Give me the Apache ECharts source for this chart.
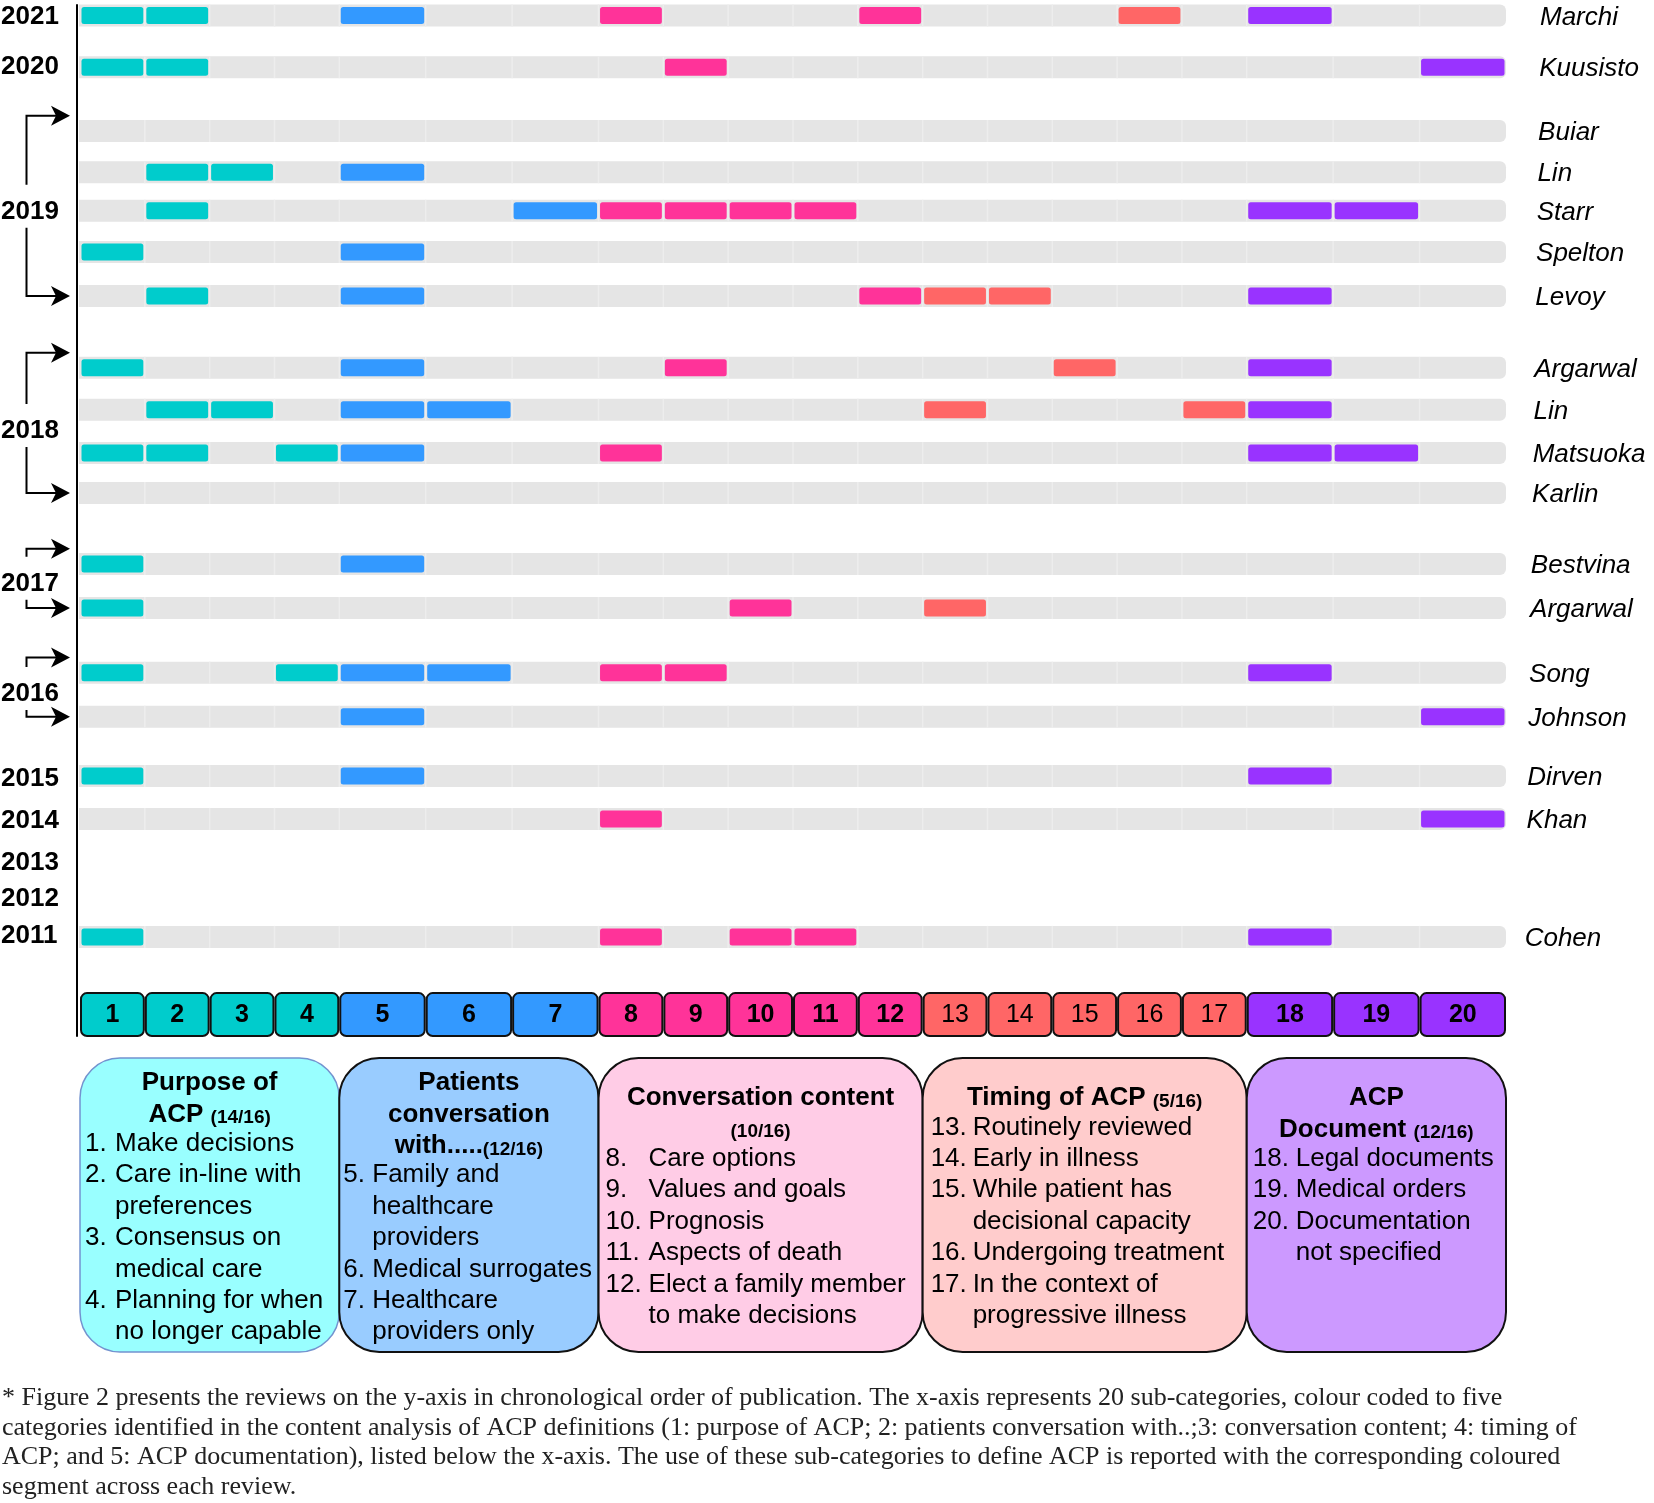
<!DOCTYPE html>
<html><head><meta charset="utf-8">
<script src="https://cdn.jsdelivr.net/npm/echarts@6/dist/echarts.min.js"></script>
<style>html,body{margin:0;padding:0;background:#fff}#c{width:1654px;height:1503px}</style>
</head><body><div id="c"></div>
<script>
// ---------------- DATA ----------------
const subcats = ['1','2','3','4','5','6','7','8','9','10','11','12','13','14','15','16','17','18','19','20'];
const groupOfSubcat = [0,0,0,0,1,1,1,2,2,2,2,2,3,3,3,3,3,4,4,4];
const reviews = ['Marchi','Kuusisto','Buiar','Lin','Starr','Spelton','Levoy','Argarwal','Lin','Matsuoka','Karlin','Bestvina','Argarwal','Song','Johnson','Dirven','Khan','Cohen'];
const reviewYears = [2021,2020,2019,2019,2019,2019,2019,2018,2018,2018,2018,2017,2017,2016,2016,2015,2014,2011];
// position of each review along the chronological (y) axis, in row units
const reviewPos = [0,1.23,2.75,3.73,4.65,5.63,6.68,8.39,9.39,10.42,11.37,13.06,14.11,15.65,16.70,18.11,19.13,21.94];
const reviewSubcats = [
  [1,2,5,8,12,16,18],
  [1,2,9,20],
  [],
  [2,3,5],
  [2,7,8,9,10,11,18,19],
  [1,5],
  [2,5,12,13,14,18],
  [1,5,9,15,18],
  [2,3,5,6,13,17,18],
  [1,2,4,5,8,18,19],
  [],
  [1,5],
  [1,10,13],
  [1,4,5,6,8,9,18],
  [5,20],
  [1,5,18],
  [8,20],
  [1,8,10,11,18]
];
const yearLabels = ['2021','2020','2019','2018','2017','2016','2015','2014','2013','2012','2011'];
const yearPos = [0,1.2,4.65,9.87,13.51,16.13,18.15,19.15,20.15,21.0,21.89];
const boxTitles = [
  [['Purpose of',''],['ACP ','(14/16)']],
  [['Patients',''],['conversation',''],['with.....','(12/16)']],
  [['Conversation content',''],['','(10/16)']],
  [['Timing of ACP ','(5/16)']],
  [['ACP',''],['Document ','(12/16)']]
];
const boxItems = [
  [['1.','Make decisions'],['2.','Care in-line with'],['','preferences'],['3.','Consensus on'],['','medical care'],['4.','Planning for when'],['','no longer capable']],
  [['5.','Family and'],['','healthcare'],['','providers'],['6.','Medical surrogates'],['7.','Healthcare'],['','providers only']],
  [['8.','Care options'],['9.','Values and goals'],['10.','Prognosis'],['11.','Aspects of death'],['12.','Elect a family member'],['','to make decisions']],
  [['13.','Routinely reviewed'],['14.','Early in illness'],['15.','While patient has'],['','decisional capacity'],['16.','Undergoing treatment'],['17.','In the context of'],['','progressive illness']],
  [['18.','Legal documents'],['19.','Medical orders'],['20.','Documentation'],['','not specified']]
];
const captionLines = [
  '* Figure 2 presents the reviews on the y-axis in chronological order of publication. The x-axis represents 20 sub-categories, colour coded to five',
  'categories identified in the content analysis of ACP definitions (1: purpose of ACP; 2: patients conversation with..;3: conversation content; 4: timing of',
  'ACP; and 5: ACP documentation), listed below the x-axis. The use of these sub-categories to define ACP is reported with the corresponding coloured',
  'segment across each review.'
];

// ---------------- LAYOUT / STYLE ----------------
const FONT = '"Liberation Sans", Arial, Helvetica, sans-serif';
const SERIF = '"Liberation Serif", "Times New Roman", serif';
const colors = ['#00CCCC','#3399FF','#FF3399','#FF6666','#9933FF'];
const lightColors = ['#99FFFF','#99CCFF','#FFCCE6','#FFCCCC','#CC99FF'];
const colUnits = groupOfSubcat.map(g => (g === 1 || g === 4) ? 4 : 3);
const colStart = []; let acc = 0;
colUnits.forEach(u => { colStart.push(acc); acc += u; });
const X_MAX = acc;
const NUM_ROW = 23.79;

const chart = echarts.init(document.getElementById('c'), null, {renderer: 'canvas'});

const cellData = [];
reviewSubcats.forEach((list, r) => list.forEach(s => {
  const c = s - 1;
  cellData.push([colStart[c], reviewPos[r], colStart[c] + colUnits[c], groupOfSubcat[c]]);
}));

const option = {
  animation: false,
  backgroundColor: '#fff',
  grid: {left: 80, right: 148, top: 5, height: 1031},
  xAxis: {type: 'value', min: 0, max: X_MAX, show: false},
  yAxis: {type: 'value', min: -0.25, max: 24.3, inverse: true, offset: 3,
    axisLine: {show: true, onZero: false, lineStyle: {color: '#000', width: 2}},
    axisTick: {show: false}, axisLabel: {show: false}, splitLine: {show: false}},
  series: [
    { // background tracks
      type: 'custom', clip: false, silent: true, z: 1,
      data: reviewPos.map((p, i) => [0, p, i]),
      renderItem: (params, api) => {
        const p0 = api.coord([0, api.value(1)]);
        const p1 = api.coord([X_MAX, api.value(1)]);
        const y = p0[1];
        const children = [{type: 'rect', shape: {x: p0[0] - 1, y: y - 11, width: p1[0] - p0[0] + 1, height: 22, r: [0, 6, 6, 0]}, style: {fill: '#e5e5e5'}}];
        for (let k = 1; k < colStart.length; k++) {
          const xx = api.coord([colStart[k], 0])[0];
          children.push({type: 'line', shape: {x1: xx, y1: y - 11, x2: xx, y2: y + 11}, style: {stroke: '#ededed', lineWidth: 1.5}});
        }
        return {type: 'group', children};
      }
    },
    { // coloured cells
      type: 'custom', clip: false, silent: true, z: 2,
      data: cellData,
      renderItem: (params, api) => {
        const p0 = api.coord([api.value(0), api.value(1)]);
        const p1 = api.coord([api.value(2), api.value(1)]);
        return {type: 'rect', shape: {x: p0[0] + 1.5, y: p0[1] - 8.5, width: p1[0] - p0[0] - 3, height: 17, r: 2.5},
          style: {fill: colors[api.value(3)]}};
      }
    },
    { // review names
      type: 'custom', clip: false, silent: true, z: 3,
      data: reviewPos.map((p, i) => [X_MAX, p, i]),
      renderItem: (params, api) => {
        const p = api.coord([api.value(0), api.value(1)]);
        return {type: 'text', style: {text: reviews[api.value(2)], x: p[0] + 34 - 0.7 * api.value(1), y: p[1] + 2,
          font: 'italic 26px ' + FONT, fill: '#000', align: 'left', verticalAlign: 'middle'}};
      }
    },
    { // sub-category number boxes
      type: 'custom', clip: false, silent: true, z: 3,
      data: subcats.map((s, i) => [colStart[i], NUM_ROW, colStart[i] + colUnits[i], groupOfSubcat[i], i]),
      renderItem: (params, api) => {
        const p0 = api.coord([api.value(0), api.value(1)]);
        const p1 = api.coord([api.value(2), api.value(1)]);
        const g = api.value(3);
        return {type: 'group', children: [
          {type: 'rect', shape: {x: p0[0] + 1, y: p0[1] - 21.5, width: p1[0] - p0[0] - 2, height: 43, r: 6},
            style: {fill: colors[g], stroke: '#111', lineWidth: 2}},
          {type: 'text', style: {text: subcats[api.value(4)], x: (p0[0] + p1[0]) / 2, y: p0[1] + 1,
            font: (g === 3 ? '' : 'bold ') + '25px ' + FONT, fill: '#000', align: 'center', verticalAlign: 'middle'}}
        ]};
      }
    },
    { // years and brackets
      type: 'custom', clip: false, silent: true, z: 3,
      data: yearPos.map((p, i) => [0, p, i]),
      renderItem: (params, api) => {
        const i = api.value(2);
        const yy = api.coord([0, api.value(1)])[1];
        const children = [{type: 'text', style: {text: yearLabels[i], x: 1, y: yy + 1,
          font: 'bold 26px ' + FONT, fill: '#000', align: 'left', verticalAlign: 'middle'}}];
        const idx = [];
        reviewYears.forEach((y, k) => { if (String(y) === yearLabels[i]) idx.push(k); });
        if (idx.length > 1) {
          const top = api.coord([0, reviewPos[idx[0]] - 0.36])[1];
          const bot = api.coord([0, reviewPos[idx[idx.length - 1]]])[1];
          const lx = 26.5, hx = 58;
          const ls = {stroke: '#000', lineWidth: 2, fill: null};
          children.push({type: 'polyline', shape: {points: [[hx, top], [lx, top], [lx, yy - 26]]}, style: ls});
          children.push({type: 'polyline', shape: {points: [[lx, yy + 17], [lx, bot], [hx, bot]]}, style: ls});
          [top, bot].forEach(ay => children.push({type: 'polygon',
            shape: {points: [[70, ay], [51, ay - 10], [56, ay], [51, ay + 10]]}, style: {fill: '#000'}}));
        }
        return {type: 'group', children};
      }
    }
  ]
};
chart.setOption(option);

// ---------------- legend boxes & caption ----------------
const graphics = [];
const numOff = [5, 4, 7, 8, 6];
const txtOff = [35, 33, 50, 50, 49];
const startY = [1081, 1081, 1096, 1096, 1096];
const LH = 31.4;
for (let g = 0; g < 5; g++) {
  const cols = groupOfSubcat.map((v, i) => v === g ? i : -1).filter(i => i >= 0);
  const x0 = chart.convertToPixel({xAxisIndex: 0}, colStart[cols[0]]);
  const last = cols[cols.length - 1];
  const x1 = chart.convertToPixel({xAxisIndex: 0}, colStart[last] + colUnits[last]);
  graphics.push({type: 'rect', z: 1, shape: {x: x0, y: 1058, width: x1 - x0, height: 294, r: 40},
    style: {fill: lightColors[g], stroke: g === 0 ? '#7393cf' : '#111', lineWidth: g === 0 ? 1.5 : 2}});
  let line = 0;
  boxTitles[g].forEach(t => {
    const txt = (t[0] ? '{b|' + t[0] + '}' : '') + (t[1] ? '{s|' + t[1] + '}' : '');
    graphics.push({type: 'text', z: 2, style: {text: txt, x: (x0 + x1) / 2, y: startY[g] + line * LH,
      align: 'center', verticalAlign: 'middle',
      rich: {b: {fontSize: 26, fontWeight: 'bold', fontFamily: FONT, fill: '#000', verticalAlign: 'bottom', lineHeight: 30},
             s: {fontSize: 19, fontWeight: 'bold', fontFamily: FONT, fill: '#000', verticalAlign: 'bottom', lineHeight: 27}}}});
    line++;
  });
  boxItems[g].forEach(it => {
    const y = startY[g] + line * LH;
    if (it[0]) graphics.push({type: 'text', z: 2, style: {text: it[0], x: x0 + numOff[g], y: y,
      font: '26px ' + FONT, fill: '#000', align: 'left', verticalAlign: 'middle'}});
    graphics.push({type: 'text', z: 2, style: {text: it[1], x: x0 + txtOff[g], y: y,
      font: '26px ' + FONT, fill: '#000', align: 'left', verticalAlign: 'middle'}});
    line++;
  });
}
captionLines.forEach((t, i) => graphics.push({type: 'text', style: {text: t, x: 2, y: 1398 + i * 29.8,
  font: '26px ' + SERIF, fill: '#222', align: 'left', verticalAlign: 'middle'}}));
chart.setOption({graphic: graphics});
</script></body></html>
